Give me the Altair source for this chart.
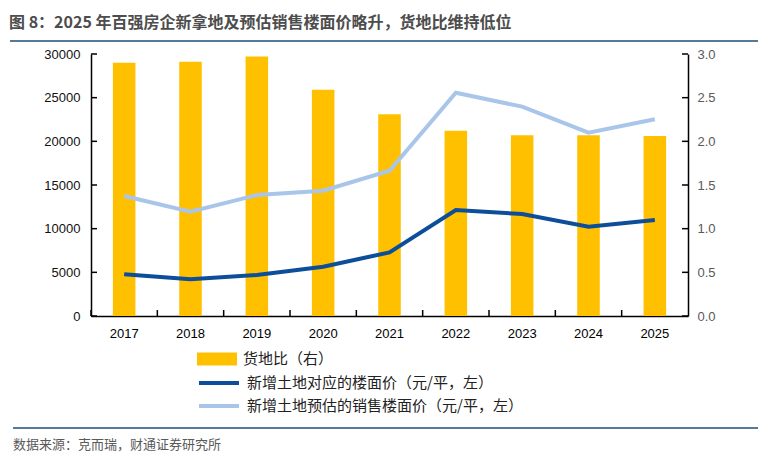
import altair as alt
import pandas as pd

# ---------------- data ----------------
years = ["2017", "2018", "2019", "2020", "2021", "2022", "2023", "2024", "2025"]
ratio = [2.90, 2.91, 2.97, 2.59, 2.31, 2.12, 2.07, 2.07, 2.06]          # 货地比（右）
floor_price = [4780, 4200, 4700, 5650, 7290, 12140, 11680, 10230, 10990]  # 新增土地对应的楼面价
sale_price = [13740, 11940, 13850, 14350, 16640, 25570, 23970, 20990, 22520]  # 预估销售楼面价
left_ticks = [0, 5000, 10000, 15000, 20000, 25000, 30000]
right_ticks = [0.0, 0.5, 1.0, 1.5, 2.0, 2.5, 3.0]

TITLE = "图 8：2025 年百强房企新拿地及预估销售楼面价略升，货地比维持低位"
SOURCE = "数据来源：克而瑞，财通证券研究所"
BAR_LABEL = "货地比（右）"
LINE1 = "新增土地对应的楼面价（元/平，左）"
LINE2 = "新增土地预估的销售楼面价（元/平，左）"

YELLOW = "#FFC000"
DARK = "#0C4E9A"
LIGHT = "#A9C6EA"
NAVY = "#1F4E79"

W, H = 597, 262
CJK = "Noto Sans CJK SC"
LAT = "Liberation Sans"

df = pd.DataFrame({"year": years, "ratio": ratio, "lab": [BAR_LABEL] * len(years)})
dark_df = pd.DataFrame({"year": years, "price": floor_price, "s": [LINE1] * len(years)})
light_df = pd.DataFrame({"year": years, "price": sale_price, "s": [LINE2] * len(years)})
lt_df = pd.DataFrame({"v": left_ticks})
rt_df = pd.DataFrame({"v": right_ticks})
deco_df = pd.DataFrame({"k": [0]})

x_enc = alt.X("year:N", sort=years,
              scale=alt.Scale(domain=years, paddingInner=0, paddingOuter=0),
              axis=alt.Axis(title=None, labelAngle=0, ticks=False, domainColor="black",
                            domainWidth=1.5, labelFont=LAT, labelFontSize=13,
                            labelColor="#000000", labelPadding=11, grid=False))

left_axis = alt.Axis(title=None, orient="left", values=left_ticks, format="d", ticks=False,
                     domainColor="black", domainWidth=1.5, labelFont=LAT, labelFontSize=13,
                     labelColor="#111111", labelPadding=11, grid=False)
right_axis = alt.Axis(title=None, orient="right", values=right_ticks, format=".1f", ticks=False,
                      domainColor="black", domainWidth=1.5, labelFont=LAT, labelFontSize=13,
                      labelColor="#595959", labelPadding=9, grid=False)
left_scale = alt.Scale(domain=[0, 30000], nice=False)
right_scale = alt.Scale(domain=[0, 3], nice=False)

# ---------------- bars (right axis) ----------------
bars = alt.Chart(df).mark_bar(width=alt.RelativeBandSize(0.34)).encode(
    x=x_enc,
    y=alt.Y("ratio:Q", scale=right_scale, axis=right_axis),
    color=alt.Color("lab:N", scale=alt.Scale(domain=[BAR_LABEL], range=[YELLOW]),
                    legend=alt.Legend(title=None, orient="none", legendX=106, legendY=295,
                                      symbolType="M-1,-0.32H1V0.32H-1Z", symbolSize=1600,
                                      symbolStrokeWidth=0, labelFont=CJK, labelFontSize=15,
                                      labelColor="#222222", labelOffset=6, clipHeight=20,
                                      padding=0, labelLimit=400)),
)
right_tick_rules = alt.Chart(rt_df).mark_rule(color="black", strokeWidth=1.5).encode(
    x=alt.value(W), x2=alt.value(W - 6),
    y=alt.Y("v:Q", scale=right_scale, axis=right_axis),
)
bars_layer = alt.layer(bars, right_tick_rules)

# ---------------- lines (left axis) ----------------
stroke_scale = alt.Scale(domain=[LINE1, LINE2], range=[DARK, LIGHT])
line_legend = alt.Legend(title=None, orient="none", legendX=106, legendY=319,
                         symbolType="stroke", symbolSize=1600, symbolStrokeWidth=4,
                         labelFont=CJK, labelFontSize=15, labelColor="#222222",
                         labelOffset=6, clipHeight=20, rowPadding=3, padding=0,
                         labelLimit=400)
light_line = alt.Chart(light_df).mark_line(strokeWidth=4).encode(
    x=x_enc,
    y=alt.Y("price:Q", scale=left_scale, axis=left_axis),
    stroke=alt.Stroke("s:N", scale=stroke_scale, legend=line_legend),
)
dark_line = alt.Chart(dark_df).mark_line(strokeWidth=4).encode(
    x=x_enc,
    y=alt.Y("price:Q", scale=left_scale, axis=left_axis),
    stroke=alt.Stroke("s:N", scale=stroke_scale, legend=line_legend),
)
left_tick_rules = alt.Chart(lt_df).mark_rule(color="black", strokeWidth=1.5).encode(
    x=alt.value(0), x2=alt.value(6),
    y=alt.Y("v:Q", scale=left_scale, axis=left_axis),
)
lines_layer = alt.layer(light_line, dark_line, left_tick_rules)

# ---------------- x ticks (inward, at band boundaries) ----------------
x_tick_rules = alt.Chart(df).mark_rule(color="black", strokeWidth=1.5).encode(
    x=alt.X("year:N", sort=years, bandPosition=0),
    y=alt.value(H), y2=alt.value(H - 6),
)

# ---------------- decorations ----------------
title_text = alt.Chart(deco_df).mark_text(
    text=TITLE, align="left", baseline="middle", fontSize=16, font=CJK, color="#4d4d4d",
    fontWeight="bold"
).encode(x=alt.value(-82), y=alt.value(-31))
top_rule = alt.Chart(deco_df).mark_rule(color=NAVY, strokeWidth=1.5).encode(
    x=alt.value(-81), x2=alt.value(669), y=alt.value(-13))
bottom_rule = alt.Chart(deco_df).mark_rule(color=NAVY, strokeWidth=1.5).encode(
    x=alt.value(-78), x2=alt.value(669), y=alt.value(374))
source_text = alt.Chart(deco_df).mark_text(
    text=SOURCE, align="left", baseline="middle", fontSize=13, font=CJK, color="#595959"
).encode(x=alt.value(-78), y=alt.value(391))

chart = alt.layer(
    bars_layer, lines_layer, x_tick_rules, title_text, top_rule, bottom_rule, source_text
).resolve_scale(y="independent").properties(
    width=W, height=H,
    padding={"left": 83, "top": 46, "right": 70, "bottom": 140},
    autosize=alt.AutoSizeParams(type="none"),
    background="white",
).configure_view(strokeWidth=0)

chart.save("out.html", embed_options={"renderer": "svg", "actions": False})
